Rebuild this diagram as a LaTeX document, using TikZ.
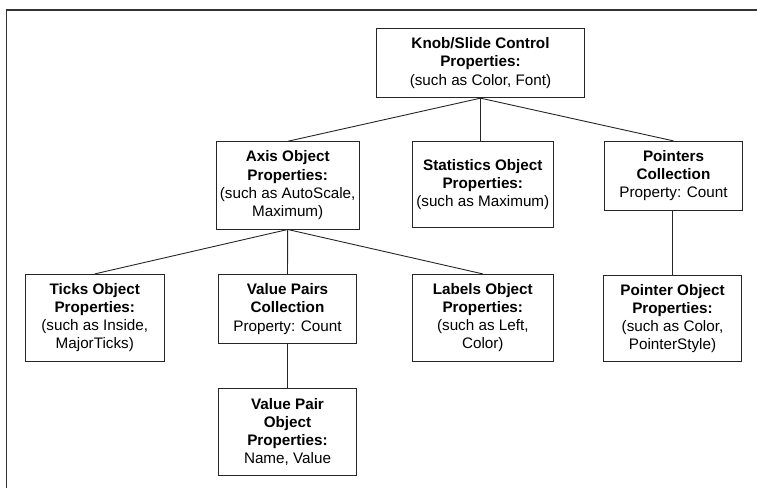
\documentclass[tikz,border=0pt]{standalone}
\usepackage{fontspec}
\setmainfont{Liberation Sans}
\usepackage{tikz}

\tikzset{
    objbox/.style={draw=black!85, line width=0.9bp, align=center, inner sep=0pt,
        font=\fontsize{15.3}{18.3}\selectfont},
    link/.style={draw=black!85, line width=0.9bp}
}

\begin{document}
\begin{tikzpicture}[x=1bp,y=-1bp]
        \useasboundingbox (0,0) rectangle (757,488);
        \draw[black!80, line width=1.3bp] (6.5,488) -- (6.5,10) -- (757,10);

        \node[objbox, minimum width=207.6bp, minimum height=69.4bp] (knob) at (480.5,63)
            {\textbf{Knob/Slide Control}\\\textbf{Properties:}\\(such as Color, Font)};
        \node[objbox, minimum width=143.3bp, minimum height=87.3bp] (axis) at (287.7,185.4)
            {\textbf{Axis Object}\\\textbf{Properties:}\\(such as AutoScale,\\Maximum)};
        \node[objbox, minimum width=141bp, minimum height=86bp] (stats) at (482.8,184.7)
            {\textbf{Statistics Object}\\\textbf{Properties:}\\(such as Maximum)};
        \node[objbox, minimum width=138.4bp, minimum height=68.7bp] (pointers) at (673.5,175.7)
            {\textbf{Pointers}\\\textbf{Collection}\\Property: Count};
        \node[objbox, minimum width=138.3bp, minimum height=86.7bp] (ticks) at (94.8,317.7)
            {\textbf{Ticks Object}\\\textbf{Properties:}\\(such as Inside,\\MajorTicks)};
        \node[objbox, minimum width=138.4bp, minimum height=69.4bp] (pairs) at (287.5,309)
            {\textbf{Value Pairs}\\\textbf{Collection}\\Property: Count};
        \node[objbox, minimum width=141.7bp, minimum height=86.7bp] (labels) at (482.8,317.7)
            {\textbf{Labels Object}\\\textbf{Properties:}\\(such as Left,\\Color)};
        \node[objbox, minimum width=138.4bp, minimum height=86bp] (pointer) at (672.5,318.7)
            {\textbf{Pointer Object}\\\textbf{Properties:}\\(such as Color,\\PointerStyle)};
        \node[objbox, minimum width=138.4bp, minimum height=86.6bp] (pair) at (287.5,432)
            {\textbf{Value Pair}\\\textbf{Object}\\\textbf{Properties:}\\Name, Value};

        \draw[link] (knob.south) -- (axis.north);
        \draw[link] (knob.south) -- (knob.south |- stats.north);
        \draw[link] (knob.south) -- (pointers.north);
        \draw[link] (axis.south) -- (ticks.north);
        \draw[link] (axis.south) -- (pairs.north);
        \draw[link] (axis.south) -- (labels.north);
        \draw[link] (pairs.south) -- (pair.north);
        \draw[link] (pointer.north |- pointers.south) -- (pointer.north);
    \end{tikzpicture}
\end{document}
